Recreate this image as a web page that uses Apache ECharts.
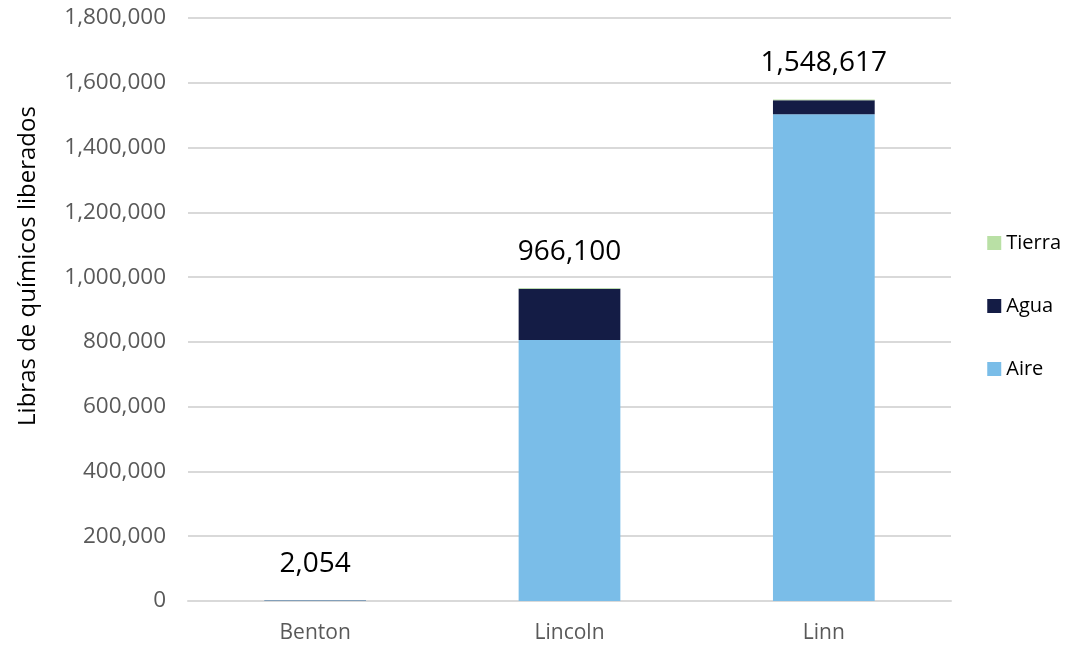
<!DOCTYPE html>
<html>
<head>
<meta charset="utf-8">
<script src="https://cdn.jsdelivr.net/npm/echarts@6/dist/echarts.min.js"></script>
<style>
html,body{margin:0;padding:0;background:#fff}
#chart{width:1066px;height:646px}
</style>
</head>
<body>
<div id="chart"></div>
<script>
// condados y libras por medio
var condados = ['Benton', 'Lincoln', 'Linn'];
var aire = [1900, 806000, 1503000];
var agua = [150, 158000, 43017];
var tierra = [4, 2100, 2600];
var totales = [2054, 966100, 1548617];
var yTicks = [0, 200000, 400000, 600000, 800000, 1000000, 1200000, 1400000, 1600000, 1800000];

var fuente = '"Open Sans", Lato, sans-serif';
function miles(v){
    return String(v).replace(/\B(?=(\d{3})+(?!\d))/g, ',');
}

var chart = echarts.init(document.getElementById('chart'));
chart.setOption({
    animation: false,
    textStyle: {fontFamily: fuente},
    grid: {left: 188, right: 115, top: 18, bottom: 45},
    legend: {
        orient: 'vertical',
        right: 0,
        top: 228,
        itemWidth: 14,
        itemHeight: 14,
        itemGap: 43,
        icon: 'rect',
        textStyle: {fontSize: 20, color: '#000', fontFamily: fuente},
        data: ['Tierra', 'Agua', 'Aire']
    },
    xAxis: {
        type: 'category',
        data: condados,
        axisLine: {lineStyle: {color: '#d9d9d9', width: 2}},
        axisTick: {show: false},
        axisLabel: {color: '#595959', fontSize: 21, margin: 22, fontFamily: fuente}
    },
    yAxis: {
        type: 'value',
        min: yTicks[0],
        max: yTicks[yTicks.length - 1],
        interval: 200000,
        axisLine: {show: false},
        axisTick: {show: false},
        splitLine: {lineStyle: {color: '#d9d9d9', width: 2}},
        axisLabel: {color: '#595959', fontSize: 22.5, margin: 22, fontFamily: fuente, formatter: miles}
    },
    graphic: [{
        type: 'text',
        x: 28,
        y: 266,
        rotation: Math.PI / 2,
        style: {
            text: 'Libras de químicos liberados',
            font: '24px ' + fuente,
            fill: '#000',
            align: 'center',
            verticalAlign: 'middle'
        }
    }],
    series: [{
        name: 'Aire',
        type: 'bar',
        stack: 'total',
        barWidth: '40%',
        itemStyle: {color: '#7abde8'},
        data: aire
    }, {
        name: 'Agua',
        type: 'bar',
        stack: 'total',
        itemStyle: {color: '#141c45'},
        data: agua
    }, {
        name: 'Tierra',
        type: 'bar',
        stack: 'total',
        itemStyle: {color: '#b9e0a5'},
        label: {
            show: true,
            position: 'top',
            distance: 22,
            fontSize: 28,
            color: '#000',
            fontFamily: fuente,
            formatter: function(p){ return miles(totales[p.dataIndex]); }
        },
        data: tierra
    }]
});
</script>
</body>
</html>
